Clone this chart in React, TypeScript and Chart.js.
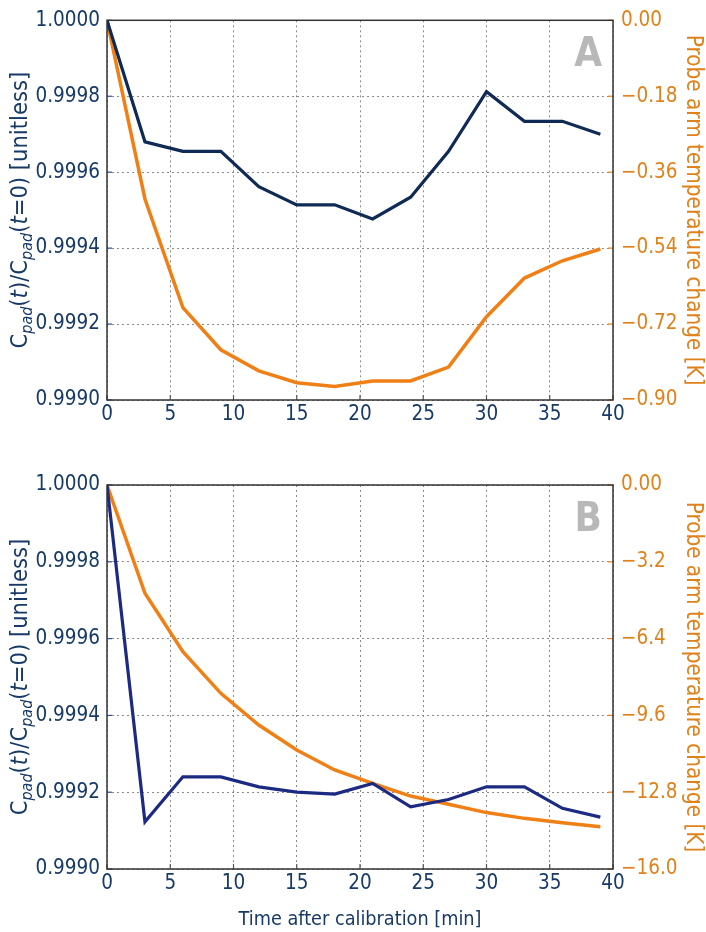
import React, { useEffect, useRef } from "react";
import { Chart, registerables } from "chart.js";
Chart.register(...registerables);

const timeMin = [0, 3, 6, 9, 12, 15, 18, 21, 24, 27, 30, 33, 36, 39];
const capRatioA = [1.0, 0.99968, 0.999655, 0.999655, 0.999562, 0.999514, 0.999514, 0.999477, 0.999534, 0.999655, 0.999812, 0.999734, 0.999734, 0.9997];
const tempChangeA = [0, -0.4235, -0.681, -0.781, -0.831, -0.859, -0.868, -0.855, -0.855, -0.822, -0.7025, -0.611, -0.57, -0.542];
const capRatioB = [1.0, 0.999123, 0.99924, 0.99924, 0.999214, 0.9992, 0.999195, 0.999223, 0.999162, 0.999181, 0.999214, 0.999214, 0.999158, 0.999135];
const tempChangeB = [0, -4.51, -6.95, -8.68, -10.0, -11.04, -11.875, -12.43, -12.96, -13.3, -13.65, -13.89, -14.07, -14.24];

const xTicks = [0, 5, 10, 15, 20, 25, 30, 35, 40];
const capTicks = [0.999, 0.9992, 0.9994, 0.9996, 0.9998, 1.0];
const capTickLabels = ["0.9990", "0.9992", "0.9994", "0.9996", "0.9998", "1.0000"];
const tempTicksA = [-0.9, -0.72, -0.54, -0.36, -0.18, 0];
const tempTickLabelsA = ["\u22120.90", "\u22120.72", "\u22120.54", "\u22120.36", "\u22120.18", "0.00"];
const tempTicksB = [-16, -12.8, -9.6, -6.4, -3.2, 0];
const tempTickLabelsB = ["\u221216.0", "\u221212.8", "\u22129.6", "\u22126.4", "\u22123.2", "0.00"];

const FONT = '"DejaVu Sans Condensed", "Liberation Sans Narrow", sans-serif';
const ORANGE = "#f07f15";
const ORANGE_TEXT = "#e0821c";
const NAVY_TEXT = "#173a66";

function labelFor(values: number[], labels: string[], v: number) {
  let best = 0;
  for (let i = 0; i < values.length; i++) {
    if (Math.abs(values[i] - v) < Math.abs(values[best] - v)) best = i;
  }
  return labels[best];
}

const decorPlugin = {
  id: "decor",
  afterDraw(chart: any, _args: any, opts: any) {
    const { ctx, chartArea } = chart;
    const { left, right, top, bottom } = chartArea;
    ctx.save();
    const xs = chart.scales.x;
    const yl = chart.scales.y;
    const yr = chart.scales.y1;
    ctx.lineWidth = 1.2;
    ctx.strokeStyle = "#555";
    for (const t of xTicks) {
      const px = xs.getPixelForValue(t);
      ctx.beginPath();
      ctx.moveTo(px, bottom);
      ctx.lineTo(px, bottom - 5);
      ctx.stroke();
    }
    ctx.strokeStyle = "#3050a0";
    for (const t of capTicks) {
      const py = yl.getPixelForValue(t);
      ctx.beginPath();
      ctx.moveTo(left, py);
      ctx.lineTo(left + 5, py);
      ctx.stroke();
    }
    ctx.strokeStyle = ORANGE;
    for (const t of opts.tempTicks) {
      const py = yr.getPixelForValue(t);
      ctx.beginPath();
      ctx.moveTo(right, py);
      ctx.lineTo(right - 5, py);
      ctx.stroke();
    }
    ctx.strokeStyle = "#333";
    ctx.lineWidth = 1.5;
    ctx.strokeRect(left, top, right - left, bottom - top);
    ctx.fillStyle = "#b8b8b8";
    ctx.font = `bold 40px ${FONT}`;
    ctx.textAlign = "right";
    ctx.textBaseline = "alphabetic";
    ctx.fillText(opts.letter, right - 11, top + 46);
    const fs = 23.5;
    const sfs = 16;
    const pieces = [
      { t: "C", it: false, sub: false },
      { t: "pad", it: true, sub: true },
      { t: "(", it: false, sub: false },
      { t: "t", it: true, sub: false },
      { t: ")/C", it: false, sub: false },
      { t: "pad", it: true, sub: true },
      { t: "(", it: false, sub: false },
      { t: "t", it: true, sub: false },
      { t: "=0) [unitless]", it: false, sub: false },
    ];
    const fontOf = (p: any) => `${p.it ? "italic " : ""}${p.sub ? sfs : fs}px ${FONT}`;
    let total = 0;
    const widths: number[] = [];
    for (const p of pieces) {
      ctx.font = fontOf(p);
      const w = ctx.measureText(p.t).width;
      widths.push(w);
      total += w;
    }
    const cy = (top + bottom) / 2;
    ctx.translate(27, cy);
    ctx.rotate(-Math.PI / 2);
    ctx.fillStyle = NAVY_TEXT;
    ctx.textAlign = "left";
    let x = -total / 2;
    pieces.forEach((p, i) => {
      ctx.font = fontOf(p);
      ctx.fillText(p.t, x, p.sub ? 5 : 0);
      x += widths[i];
    });
    ctx.restore();
  },
};

type PanelProps = {
  cap: number[];
  temp: number[];
  tempTicks: number[];
  tempLabels: string[];
  letter: string;
  navy: string;
  height: number;
  padTop: number;
  xAxisHeight: number;
  showXTitle: boolean;
  top: number;
};

function Panel(props: PanelProps) {
  const ref = useRef<HTMLCanvasElement | null>(null);
  useEffect(() => {
    if (!ref.current) return;
    const tMin = Math.min(...props.tempTicks);
    const tMax = Math.max(...props.tempTicks);
    const chart = new Chart(ref.current, {
      type: "line",
      data: {
        datasets: [
          {
            label: "Capacitance ratio",
            data: timeMin.map((t, i) => ({ x: t, y: props.cap[i] })),
            borderColor: props.navy,
            borderWidth: 3.2,
            pointRadius: 0,
            tension: 0,
            yAxisID: "y",
            order: 1,
          },
          {
            label: "Probe arm temperature change",
            data: timeMin.map((t, i) => ({ x: t, y: props.temp[i] })),
            borderColor: ORANGE,
            borderWidth: 3.5,
            pointRadius: 0,
            tension: 0,
            yAxisID: "y1",
            order: 2,
          },
        ],
      },
      options: {
        animation: false,
        responsive: false,
        maintainAspectRatio: false,
        layout: { padding: { top: props.padTop, left: 0, right: 0, bottom: 0 } },
        plugins: {
          legend: { display: false },
          tooltip: { enabled: false },
          decor: { letter: props.letter, tempTicks: props.tempTicks },
        } as any,
        scales: {
          x: {
            type: "linear",
            min: 0,
            max: 40,
            afterBuildTicks: (s: any) => {
              s.ticks = xTicks.map((v) => ({ value: v }));
            },
            afterFit: (s: any) => {
              s.height = props.xAxisHeight;
            },
            ticks: {
              color: NAVY_TEXT,
              font: { family: FONT, size: 20.5 },
              padding: 2,
              maxRotation: 0,
              callback: (v: any) => String(v),
            },
            grid: { color: "#8a8a8a", lineWidth: 1, drawTicks: false },
            border: { display: false, dash: [2, 3] },
            title: {
              display: props.showXTitle,
              text: "Time after calibration [min]",
              color: NAVY_TEXT,
              font: { family: FONT, size: 19.7 },
              padding: 0,
            },
          },
          y: {
            type: "linear",
            position: "left",
            min: 0.999,
            max: 1.0,
            afterBuildTicks: (s: any) => {
              s.ticks = capTicks.map((v) => ({ value: v }));
            },
            afterFit: (s: any) => {
              s.width = 107;
            },
            ticks: {
              color: NAVY_TEXT,
              font: { family: FONT, size: 20.5 },
              padding: 7,
              callback: (v: any) => labelFor(capTicks, capTickLabels, Number(v)),
            },
            grid: { color: "#8a8a8a", lineWidth: 1, drawTicks: false },
            border: { display: false, dash: [2, 3] },
          },
          y1: {
            type: "linear",
            position: "right",
            min: tMin,
            max: tMax,
            afterBuildTicks: (s: any) => {
              s.ticks = props.tempTicks.map((v) => ({ value: v }));
            },
            afterFit: (s: any) => {
              s.width = 93;
            },
            ticks: {
              color: ORANGE_TEXT,
              font: { family: FONT, size: 20.5 },
              padding: 8,
              callback: (v: any) => labelFor(props.tempTicks, props.tempLabels, Number(v)),
            },
            grid: { display: false, drawTicks: false },
            border: { display: false },
            title: {
              display: true,
              text: "Probe arm temperature change [K]",
              color: ORANGE_TEXT,
              font: { family: FONT, size: 22.3 },
              padding: 0,
            },
          },
        },
      },
      plugins: [decorPlugin as any],
    });
    return () => chart.destroy();
  }, []);
  return (
    <canvas
      ref={ref}
      width={706}
      height={props.height}
      style={{ position: "absolute", left: 0, top: props.top, width: 706, height: props.height }}
    />
  );
}

export default function App() {
  useEffect(() => {
    document.body.style.margin = "0";
    document.body.style.background = "#fff";
  }, []);
  return (
    <div style={{ position: "relative", width: 706, height: 932, background: "#fff" }}>
      <Panel
        cap={capRatioA}
        temp={tempChangeA}
        tempTicks={tempTicksA}
        tempLabels={tempTickLabelsA}
        letter="A"
        navy="#0f2a55"
        height={460}
        padTop={16}
        xAxisHeight={60}
        showXTitle={false}
        top={0}
      />
      <Panel
        cap={capRatioB}
        temp={tempChangeB}
        tempTicks={tempTicksB}
        tempLabels={tempTickLabelsB}
        letter="B"
        navy="#1c2a82"
        height={472}
        padTop={25}
        xAxisHeight={63}
        showXTitle={true}
        top={460}
      />
    </div>
  );
}
